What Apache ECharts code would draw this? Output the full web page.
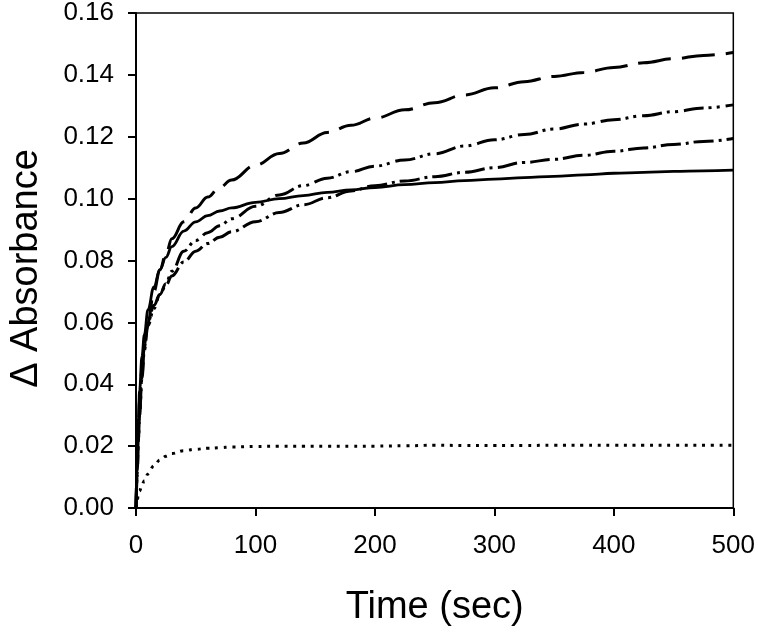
<!DOCTYPE html>
<html><head><meta charset="utf-8">
<script src="https://cdn.jsdelivr.net/npm/echarts@6/dist/echarts.min.js"></script>
<style>html,body{margin:0;padding:0;background:#fff}#c{width:758px;height:632px}</style>
</head><body><div id="c"></div>
<script>
var times = [0,1,2,3,5,7,10,15,20,25,30,40,50,60,70,80,100,120,140,160,180,200,225,250,275,300,325,350,375,400,425,450,475,500];
var longDash = [0,0.010,0.025,0.035,0.045,0.052,0.060,0.070,0.077,0.082,0.087,0.0925,0.097,0.1005,0.1036,0.106,0.1108,0.1146,0.118,0.1214,0.1237,0.126,0.1287,0.131,0.1335,0.1358,0.1378,0.1395,0.1408,0.1424,0.1439,0.1452,0.1463,0.1472];
var dashDotDot = [0,0.012,0.022,0.030,0.042,0.051,0.059,0.0645,0.069,0.0725,0.0765,0.083,0.0865,0.089,0.0912,0.0935,0.0975,0.1012,0.1042,0.1066,0.1087,0.1105,0.1125,0.1145,0.117,0.119,0.1207,0.1225,0.1241,0.1255,0.1268,0.1281,0.1293,0.1303];
var dashDot = [0,0.012,0.022,0.030,0.043,0.053,0.060,0.0655,0.069,0.072,0.075,0.0795,0.083,0.0855,0.0875,0.0893,0.0925,0.0955,0.098,0.1003,0.1025,0.1042,0.1057,0.1071,0.1085,0.110,0.1117,0.1127,0.114,0.1153,0.1164,0.1175,0.1185,0.1194];
var solid = [0,0.016,0.029,0.038,0.049,0.056,0.064,0.0715,0.077,0.081,0.0845,0.0895,0.0925,0.0945,0.096,0.097,0.0988,0.100,0.101,0.102,0.1028,0.1036,0.1045,0.1052,0.1058,0.1063,0.1068,0.1072,0.1077,0.1082,0.1085,0.1088,0.109,0.1092];
var dotted = [0,0.0025,0.0045,0.0055,0.0075,0.0088,0.011,0.0137,0.0155,0.0167,0.0176,0.0185,0.019,0.0193,0.0195,0.0197,0.0199,0.0200,0.0200,0.0200,0.0200,0.0200,0.0201,0.0203,0.0202,0.0202,0.0202,0.0203,0.0203,0.0203,0.0203,0.0203,0.0203,0.0203];
var xTicks = [0,100,200,300,400,500];
var yTicks = ['0.00','0.02','0.04','0.06','0.08','0.10','0.12','0.14','0.16'];

function pairs(v){ return times.map(function(t,i){ return [t, v[i]]; }); }
function line(name, v, dash, w){
  return {name:name, type:'line', data:pairs(v), showSymbol:false, smooth:0.4, smoothMonotone:'x',
    lineStyle:{color:'#000', width:w, type:dash}, z:3};
}
var chart = echarts.init(document.getElementById('c'), null, {renderer:'canvas'});
chart.setOption({
  animation:false,
  backgroundColor:'#fff',
  grid:{left:136, right:22, top:11, bottom:123, show:true, borderColor:'#000', borderWidth:1.5},
  xAxis:{type:'value', min:xTicks[0], max:xTicks[xTicks.length-1], interval:100,
    name:'Time (sec)', nameLocation:'middle', nameGap:81,
    nameTextStyle:{fontFamily:'Liberation Sans', fontSize:38, color:'#000'},
    axisLine:{lineStyle:{color:'#000', width:2}},
    axisTick:{inside:false, length:8, lineStyle:{color:'#000', width:2}},
    axisLabel:{margin:25, fontFamily:'Liberation Sans', fontSize:26, color:'#000'},
    splitLine:{show:false}},
  yAxis:{type:'value', min:0, max:0.16, interval:0.02,
    name:'\u0394 Absorbance', nameLocation:'middle', nameGap:90, nameRotate:90,
    nameTextStyle:{fontFamily:'Liberation Sans', fontSize:38, color:'#000', padding:[0,16,0,0]},
    axisLine:{lineStyle:{color:'#000', width:2}},
    axisTick:{inside:false, length:8, lineStyle:{color:'#000', width:2}},
    axisLabel:{margin:22, fontFamily:'Liberation Sans', fontSize:26, color:'#000',
      formatter:function(v){ return yTicks[Math.round(v/0.02)]; }},
    splitLine:{show:false}},
  series:[
    line('A', longDash, [33,11], 3),
    line('B', dashDotDot, [20,5,3,5,3,6], 3),
    line('C', dashDot, [20,5,3,5], 3),
    line('D', solid, 'solid', 2.8),
    line('E', dotted, [3,5.7], 3)
  ]
});
</script></body></html>
